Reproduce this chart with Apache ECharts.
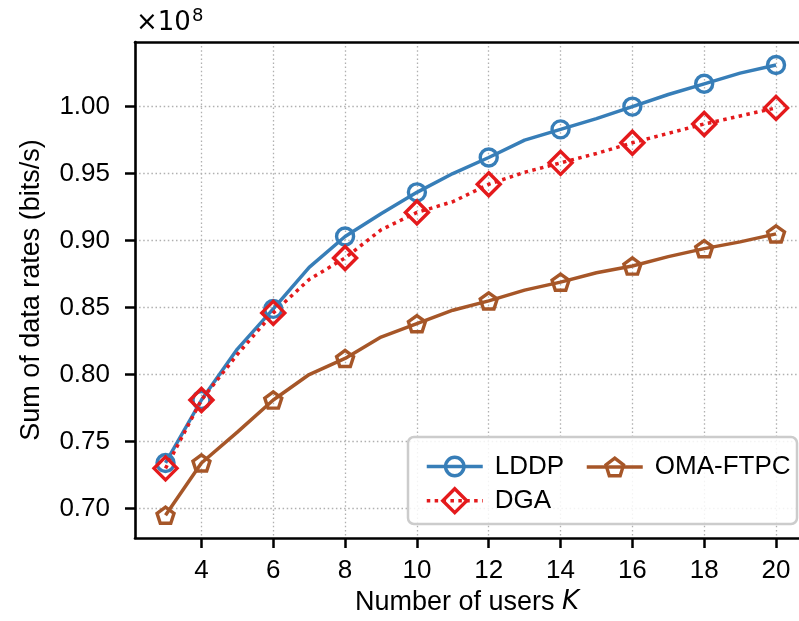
<!DOCTYPE html>
<html>
<head>
<meta charset="utf-8">
<title>Sum of data rates vs. number of users</title>
<script src="https://cdn.jsdelivr.net/npm/echarts@6/dist/echarts.min.js"></script>
<style>
  html, body { margin: 0; padding: 0; background: #fff; }
  #chart { width: 799px; height: 621px; }
</style>
</head>
<body>
<div id="chart"></div>
<script>
// Number of users K (every simulated point)
const usersK = [3, 4, 5, 6, 7, 8, 9, 10, 11, 12, 13, 14, 15, 16, 17, 18, 19, 20];
// K values that carry a marker
const markerK = [3, 4, 6, 8, 10, 12, 14, 16, 18, 20];
// Sum of data rates, in units of 1e8 bits/s
const lddpRate = [0.734, 0.781, 0.819, 0.849, 0.880, 0.903, 0.920, 0.936, 0.950, 0.962, 0.975, 0.983, 0.991, 1.000, 1.009, 1.017, 1.025, 1.031];
const dgaRate  = [0.730, 0.781, 0.815, 0.846, 0.871, 0.887, 0.908, 0.921, 0.929, 0.942, 0.951, 0.958, 0.965, 0.973, 0.980, 0.987, 0.993, 0.999];
const omaRate  = [0.695, 0.734, 0.757, 0.781, 0.800, 0.812, 0.828, 0.838, 0.848, 0.855, 0.863, 0.869, 0.876, 0.881, 0.888, 0.894, 0.899, 0.905];
// Tick labels
const xTicks = [4, 6, 8, 10, 12, 14, 16, 18, 20];
const yTicks = [0.70, 0.75, 0.80, 0.85, 0.90, 0.95, 1.00];
const seriesNames = ['LDDP', 'DGA', 'OMA-FTPC'];

const FONT = '"Liberation Sans", Arial, Helvetica, sans-serif';
const MATH_FONT = '"DejaVu Sans", sans-serif';
const C_BLUE = '#377eb8', C_RED = '#e41a1c', C_BROWN = '#a65628';
const PENTAGON = 'path://M0,-1 L0.951,-0.309 L0.588,0.809 L-0.588,0.809 L-0.951,-0.309 Z';
const X_MIN = 2.15, X_MAX = 20.64;
const GRID_DOT = { color: '#b0b0b0', width: 1.3, type: [1.5, 2.6] };
const LINE_W = 3.5, MARK_W = 3.4;

function points(values) {
  return usersK.map((k, i) => markerK.includes(k)
    ? [k, values[i]]
    : { value: [k, values[i]], symbol: 'none' });
}

function lineSeries(name, values, color, symbol, size, lineType) {
  return {
    name: name,
    type: 'line',
    data: points(values),
    symbol: symbol,
    symbolSize: size,
    showAllSymbol: true,
    symbolKeepAspect: true,
    clip: false,
    lineStyle: { color: color, width: LINE_W, type: lineType, cap: 'butt' },
    itemStyle: { color: 'rgba(255,255,255,0)', borderColor: color, borderWidth: MARK_W },
    emphasis: { disabled: true },
    z: 3
  };
}

function legendFor(name, left, centerY, itemHeight) {
  return {
    data: [name],
    left: left,
    top: centerY - itemHeight / 2,
    orient: 'horizontal',
    itemWidth: 56,
    itemHeight: itemHeight,
    selectedMode: false,
    z: 120,
    lineStyle: { width: LINE_W },
    itemStyle: { borderWidth: MARK_W },
    textStyle: { fontFamily: FONT, fontSize: 26, color: '#000', padding: [0, 0, 0, 7] }
  };
}

const chart = echarts.init(document.getElementById('chart'), null, { renderer: 'canvas' });

chart.setOption({
  animation: false,
  backgroundColor: '#fff',
  textStyle: { fontFamily: FONT },
  grid: { left: 135, top: 42, right: 0, bottom: 83, show: false },
  xAxis: [{
    type: 'value',
    min: X_MIN, max: X_MAX,
    name: '{n|Number of users }{k|K}',
    nameLocation: 'middle',
    nameGap: 51,
    nameTextStyle: {
      rich: {
        n: { fontFamily: FONT, fontSize: 27, color: '#000' },
        k: { fontFamily: MATH_FONT, fontSize: 26, color: '#000', fontStyle: 'italic' }
      }
    },
    axisLine: { show: true, onZero: false, lineStyle: { color: '#000', width: 2.6 } },
    axisTick: { show: true, customValues: xTicks, length: 10, lineStyle: { color: '#000', width: 2.5 } },
    axisLabel: { customValues: xTicks, margin: 20, fontSize: 26, color: '#000', fontFamily: FONT,
                 formatter: v => String(Math.round(v)) },
    splitLine: { show: true, lineStyle: GRID_DOT }
  }, {
    // top frame line
    type: 'value',
    position: 'top',
    min: X_MIN, max: X_MAX,
    axisLine: { show: true, onZero: false, lineStyle: { color: '#000', width: 2.6 } },
    axisTick: { show: false },
    axisLabel: { show: false },
    splitLine: { show: false }
  }],
  yAxis: {
    type: 'value',
    min: 0.678, max: 1.0482,
    name: 'Sum of data rates (bits/s)',
    nameLocation: 'middle',
    nameRotate: 90,
    nameGap: 90,
    nameTextStyle: { fontFamily: FONT, fontSize: 27, color: '#000' },
    axisLine: { show: true, onZero: false, lineStyle: { color: '#000', width: 2.6 } },
    axisTick: { show: true, customValues: yTicks, length: 10, lineStyle: { color: '#000', width: 2.5 } },
    axisLabel: { customValues: yTicks, margin: 25, fontSize: 26, color: '#000', fontFamily: FONT,
                 formatter: v => v.toFixed(2) },
    splitLine: { show: true, lineStyle: GRID_DOT }
  },
  legend: [
    legendFor(seriesNames[0], 420, 460, 23),
    legendFor(seriesNames[2], 580, 460, 22),
    legendFor(seriesNames[1], 420, 497, 30)
  ],
  graphic: [
    // legend frame
    { type: 'rect', z: 110, shape: { x: 408, y: 437, width: 389, height: 87, r: 6 },
      style: { fill: 'rgba(255,255,255,0.85)', stroke: '#cccccc', lineWidth: 2.5 } },
    // axis multiplier
    { type: 'text', z: 110, x: 136, y: 23,
      style: { text: '\u00d710', fontFamily: MATH_FONT, fontSize: 26, fill: '#000', verticalAlign: 'middle' } },
    { type: 'text', z: 110, x: 192, y: 16,
      style: { text: '8', fontFamily: MATH_FONT, fontSize: 18, fill: '#000', verticalAlign: 'middle' } }
  ],
  series: [
    lineSeries(seriesNames[2], omaRate, C_BROWN, PENTAGON, 17, 'solid'),
    lineSeries(seriesNames[0], lddpRate, C_BLUE, 'circle', 17, 'solid'),
    lineSeries(seriesNames[1], dgaRate, C_RED, 'diamond', 23, [3.5, 4.4])
  ]
});
</script>
</body>
</html>
